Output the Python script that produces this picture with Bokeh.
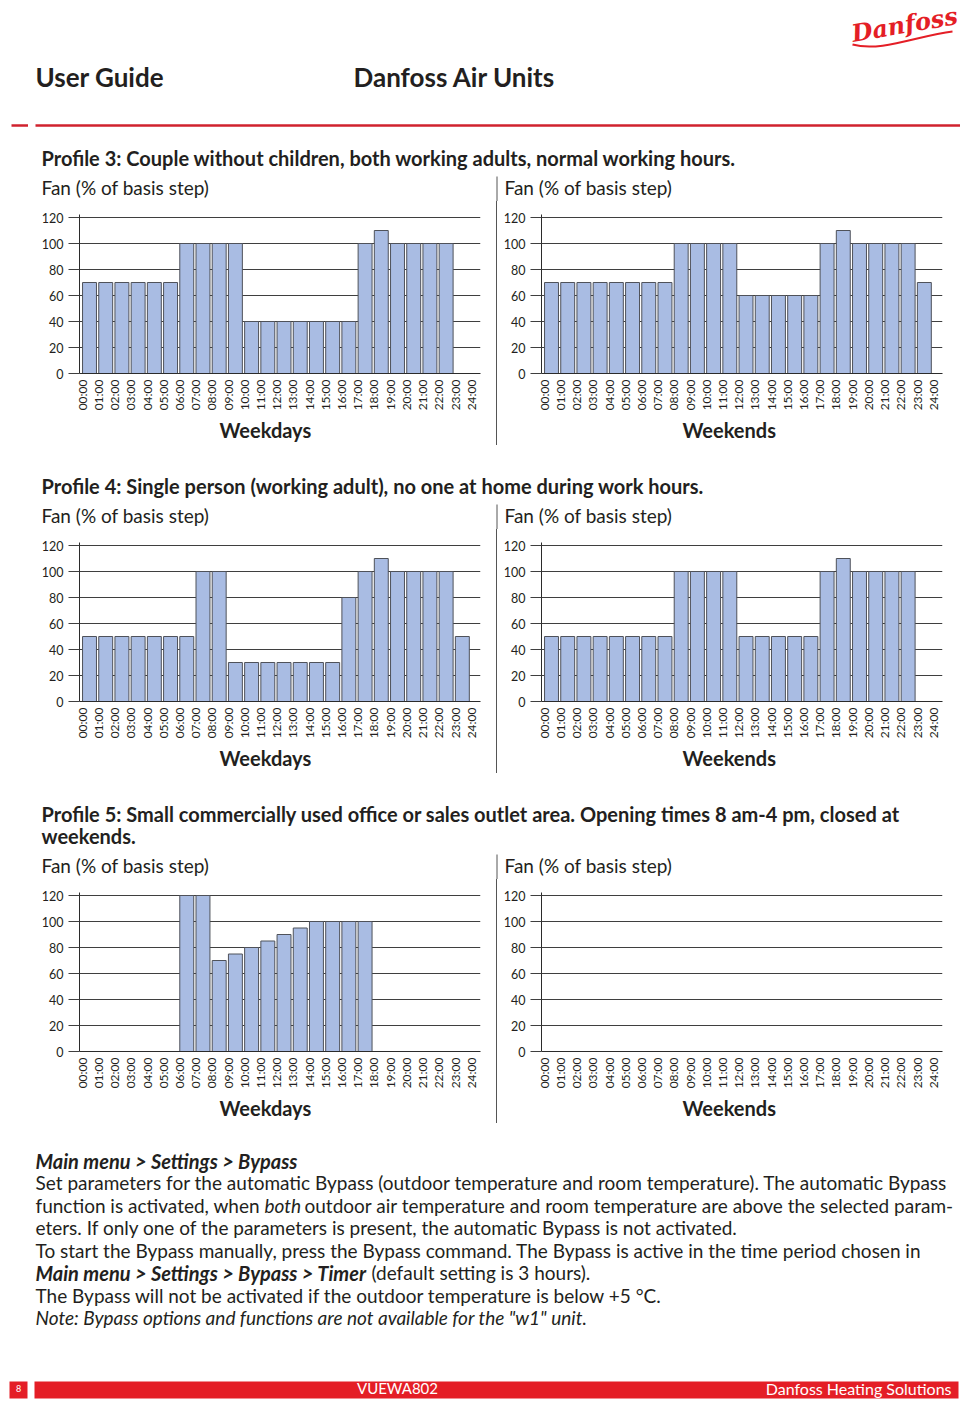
import math
from bokeh.plotting import figure
from bokeh.models import Range1d, FixedTicker, Div, Title
from bokeh.layouts import column, row
from bokeh.core.properties import value
from bokeh.embed import file_html
from bokeh.resources import INLINE

FONT = "Lato"
TXT = "#231f20"
BAR_FILL = "#a9bce3"
BAR_EDGE = "#4f525a"
GRID = "#3f3f3f"
SEP = "#555555"
RED = "#e41e26"
RULE_RED = "#d0222e"
PAGE_W = 960
ROW_H = 244

# ---------------- data ----------------
hours = [0, 1, 2, 3, 4, 5, 6, 7, 8, 9, 10, 11, 12, 13, 14, 15, 16, 17, 18, 19, 20, 21, 22, 23]
tick_positions = [0, 1, 2, 3, 4, 5, 6, 7, 8, 9, 10, 11, 12, 13, 14, 15, 16, 17, 18, 19, 20, 21, 22, 23, 24]
tick_labels = ["00:00", "01:00", "02:00", "03:00", "04:00", "05:00", "06:00", "07:00", "08:00",
               "09:00", "10:00", "11:00", "12:00", "13:00", "14:00", "15:00", "16:00", "17:00",
               "18:00", "19:00", "20:00", "21:00", "22:00", "23:00", "24:00"]
y_ticks = [0, 20, 40, 60, 80, 100, 120]

p3_weekdays = [70, 70, 70, 70, 70, 70, 100, 100, 100, 100, 40, 40, 40, 40, 40, 40, 40, 100, 110, 100, 100, 100, 100, 0]
p3_weekends = [70, 70, 70, 70, 70, 70, 70, 70, 100, 100, 100, 100, 60, 60, 60, 60, 60, 100, 110, 100, 100, 100, 100, 70]
p4_weekdays = [50, 50, 50, 50, 50, 50, 50, 100, 100, 30, 30, 30, 30, 30, 30, 30, 80, 100, 110, 100, 100, 100, 100, 50]
p4_weekends = [50, 50, 50, 50, 50, 50, 50, 50, 100, 100, 100, 100, 50, 50, 50, 50, 50, 100, 110, 100, 100, 100, 100, 0]
p5_weekdays = [0, 0, 0, 0, 0, 0, 120, 120, 70, 75, 80, 85, 90, 95, 100, 100, 100, 100, 0, 0, 0, 0, 0, 0]
p5_weekends = [0, 0, 0, 0, 0, 0, 0, 0, 0, 0, 0, 0, 0, 0, 0, 0, 0, 0, 0, 0, 0, 0, 0, 0]

y_title = "Fan (% of basis step)"
profile3 = "Profile 3: Couple without children, both working adults, normal working hours."
profile4 = "Profile 4: Single person (working adult), no one at home during work hours."
profile5_a = "Profile 5: Small commercially used office or sales outlet area. Opening times 8 am-4 pm, closed at"
profile5_b = "weekends."


# ---------------- helpers ----------------
def strip(y0, y1):
    p = figure(width=PAGE_W, height=y1 - y0, x_range=Range1d(0, PAGE_W), y_range=Range1d(y1, y0),
               x_axis_type=None, y_axis_type=None, output_backend="svg", toolbar_location=None,
               min_border=0, outline_line_color=None)
    return p


def txt(p, x, y, s, size, style="normal", color=TXT, align="left", font=FONT, angle=0.0):
    p.text(x=[x], y=[y - 2], text=[s], text_font=value(font), text_font_size=f"{size}px",
           text_font_style=style, text_color=color, text_align=align,
           text_baseline="middle", angle=angle)


def chart_heads(p, y_text, y_sep0, y_sep1):
    txt(p, 41, y_text, y_title, 19)
    txt(p, 504, y_text, y_title, 19)
    p.segment(x0=[496.5], y0=[y_sep0], x1=[496.5], y1=[y_sep1], line_color=SEP, line_width=1)


def chart(vals, label, left):
    if left:
        w, mbl, mbr, off_b = 496, 79, 16, 140
    else:
        w, mbl, mbr, off_b = 463, 44, 18, 141
    p = figure(width=w, height=ROW_H, x_range=Range1d(-0.167, 24.57), y_range=Range1d(0, 122.31),
               output_backend="svg", toolbar_location=None,
               min_border_left=mbl, min_border_right=mbr, min_border_top=13, min_border_bottom=72,
               outline_line_color=None)

    xs = [h + 0.45 for h, v in zip(hours, vals) if v > 0]
    tops = [v for v in vals if v > 0]
    p.vbar(x=xs, top=tops, bottom=0, width=0.86, fill_color=BAR_FILL,
           line_color=BAR_EDGE, line_width=1)

    p.xgrid.visible = False
    p.ygrid.ticker = FixedTicker(ticks=y_ticks)
    p.ygrid.grid_line_color = GRID
    p.ygrid.grid_line_width = 1

    p.yaxis.ticker = FixedTicker(ticks=y_ticks)
    p.yaxis.major_tick_out = 11
    p.yaxis.major_tick_in = 0
    p.yaxis.minor_tick_out = 0
    p.yaxis.minor_tick_in = 0
    p.yaxis.major_tick_line_color = GRID
    p.yaxis.axis_line_color = "#2b2b2b"
    p.yaxis.major_label_standoff = 5
    p.yaxis.major_label_text_font = FONT
    p.yaxis.major_label_text_font_size = "12.5px"
    p.yaxis.major_label_text_color = TXT

    p.xaxis.ticker = FixedTicker(ticks=tick_positions)
    p.xaxis.major_label_overrides = {t: l for t, l in zip(tick_positions, tick_labels)}
    p.xaxis.major_label_orientation = math.pi / 2
    p.xaxis.major_tick_out = 0
    p.xaxis.major_tick_in = 0
    p.xaxis.minor_tick_out = 0
    p.xaxis.minor_tick_in = 0
    p.xaxis.axis_line_color = "#2b2b2b"
    p.xaxis.major_label_standoff = 6
    p.xaxis.major_label_text_font = FONT
    p.xaxis.major_label_text_font_size = "12px"
    p.xaxis.major_label_text_color = TXT

    p.add_layout(Title(text=label, align="left", offset=off_b, text_font=FONT,
                       text_font_size="20px", text_font_style="bold", text_color=TXT,
                       standoff=4), "below")
    return p


def chart_row(left_vals, right_vals):
    sep = Div(text="", width=1, height=ROW_H, margin=0,
              styles={"background-color": SEP})
    return row(chart(left_vals, "Weekdays", True), sep, chart(right_vals, "Weekends", False),
               spacing=0)


# ---------------- page strips ----------------
s1 = strip(0, 201)
txt(s1, 904, 26, "Danfoss", 24, style="bold italic", color=RED, align="center",
    font="DejaVu Serif", angle=0.17)
s1.bezier(x0=[852], y0=[44], x1=[952], y1=[31], cx0=[880], cy0=[52], cx1=[918], cy1=[35],
          line_color=RED, line_width=2)
txt(s1, 35, 78, "User Guide", 26, style="bold")
txt(s1, 353, 78, "Danfoss Air Units", 26, style="bold")
s1.segment(x0=[11, 35], y0=[125, 125], x1=[27.5, 960], y1=[125, 125],
           line_color=RULE_RED, line_width=2.5)
txt(s1, 41, 159, profile3, 20, style="bold")
chart_heads(s1, 189, 176, 201)

s2 = strip(445, 529)
txt(s2, 41, 487, profile4, 20, style="bold")
chart_heads(s2, 517, 504, 529)

s3 = strip(773, 879)
txt(s3, 41, 815, profile5_a, 20, style="bold")
txt(s3, 41, 837, profile5_b, 20, style="bold")
chart_heads(s3, 867, 854, 879)

s4 = strip(1123, 1400)
txt(s4, 35, 1162, "Main menu > Settings > Bypass", 20, style="bold italic")
txt(s4, 35, 1184, "Set parameters for the automatic Bypass (outdoor temperature and room temperature). The automatic Bypass", 19)
txt(s4, 35, 1207, "function is activated, when", 19)
txt(s4, 264, 1207, "both", 19, style="italic")
txt(s4, 304, 1207, "outdoor air temperature and room temperature are above the selected param-", 19)
txt(s4, 35, 1229, "eters. If only one of the parameters is present, the automatic Bypass is not activated.", 19)
txt(s4, 35, 1252, "To start the Bypass manually, press the Bypass command. The Bypass is active in the time period chosen in", 19)
txt(s4, 35, 1274, "Main menu > Settings > Bypass > Timer", 20, style="bold italic")
txt(s4, 371, 1274, "(default setting is 3 hours).", 19)
txt(s4, 35, 1297, "The Bypass will not be activated if the outdoor temperature is below +5 °C.", 19)
txt(s4, 35, 1319, "Note: Bypass options and functions are not available for the \"w1\" unit.", 19, style="italic")

s4.quad(left=[9, 34], right=[27, 958], top=[1381, 1381], bottom=[1398, 1398],
        fill_color=RED, line_color=None)
txt(s4, 18, 1389.5, "8", 9, color="white", align="center")
txt(s4, 397, 1389.5, "VUEWA802", 15, color="white", align="center")
txt(s4, 951, 1389.5, "Danfoss Heating Solutions", 16, color="white", align="right")

page = column(
    s1,
    chart_row(p3_weekdays, p3_weekends),
    s2,
    chart_row(p4_weekdays, p4_weekends),
    s3,
    chart_row(p5_weekdays, p5_weekends),
    s4,
    spacing=0,
)

open("out.html", "w").write(file_html(page, INLINE))
